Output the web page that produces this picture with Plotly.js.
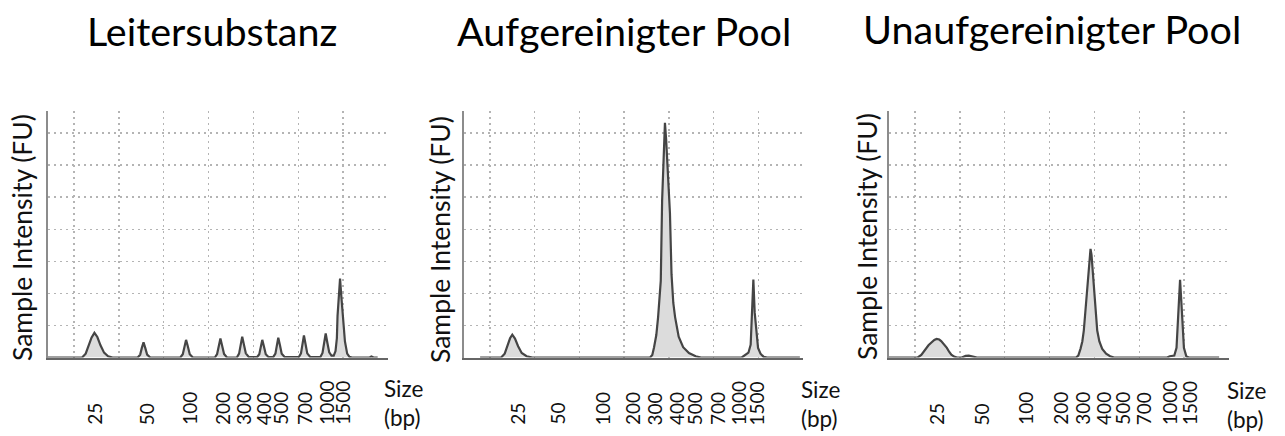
<!DOCTYPE html>
<html><head><meta charset="utf-8">
<script src="https://cdn.plot.ly/plotly-3.0.1.min.js"></script>
<style>html,body{margin:0;padding:0;background:#fff}#chart{width:1285px;height:436px}</style>
</head><body><div id="chart"></div>
<script>
// Panel titles
const panelTitles = ['Leitersubstanz', 'Aufgereinigter Pool', 'Unaufgereinigter Pool'];
// Size-standard labels (bp)
const sizeLabels = ['25', '50', '100', '200', '300', '400', '500', '700', '1000', '1500'];
// Migration time (s) at which each size label sits, per panel
const ladderTickTime     = [44.4, 56.1, 65.7, 73.1, 77.8, 82.3, 86.0, 91.4, 96.1, 99.7];
const purifiedTickTime   = [46.0, 54.9, 65.2, 71.9, 76.9, 81.7, 85.8, 90.9, 95.5, 99.6];
const unpurifiedTickTime = [44.7, 54.8, 64.6, 72.4, 77.3, 82.0, 86.2, 91.0, 96.6, 101.1];

// Electropherogram traces: migration time (s) and intensity (FU)
const ladderTime = [34.2, 41.8, 42.6, 43.3, 43.9, 44.55, 45.2, 45.9, 46.7, 47.6, 48.6,
  54.2, 54.75, 55.12, 55.5, 55.88, 56.3, 57.0,
  63.7, 64.25, 64.6, 64.98, 65.37, 65.8, 66.5,
  71.4, 71.9, 72.26, 72.64, 73.02, 73.45, 74.1,
  76.3, 76.8, 77.13, 77.5, 77.87, 78.3, 79.0,
  80.8, 81.3, 81.62, 81.97, 82.33, 82.75, 83.4,
  84.4, 84.9, 85.2, 85.54, 85.9, 86.3, 87.0,
  90.1, 90.6, 90.92, 91.26, 91.6, 92.0, 92.7,
  94.9, 95.4, 95.75, 96.11, 96.48, 96.9, 97.4,
  97.9, 98.3, 98.6, 98.75, 99.0, 99.31, 99.6, 100.0, 100.4, 100.9, 101.4, 102.0,
  105.9, 106.3, 106.8, 107.7];
const ladderFU = [0, 0, 1.2, 3.6, 6.2, 7.7, 6.4, 3.8, 1.5, 0.4, 0,
  0, 0.9, 3.0, 4.7, 3.0, 0.9, 0,
  0, 1.0, 3.4, 5.5, 3.5, 1.0, 0,
  0, 1.1, 3.7, 5.9, 3.7, 1.1, 0,
  0, 1.2, 4.0, 6.5, 4.1, 1.3, 0.1,
  0.1, 1.0, 3.4, 5.5, 3.5, 1.0, 0.1,
  0.1, 1.2, 3.9, 6.2, 3.9, 1.2, 0.1,
  0.1, 1.3, 4.3, 6.9, 4.3, 1.3, 0.1,
  0.1, 1.4, 4.6, 7.5, 4.6, 1.6, 0.6,
  0.6, 2.0, 6.0, 13.0, 19.0, 24.6, 19.0, 13.0, 5.0, 1.2, 0.2, 0,
  0, 0.3, 0, 0];

const purifiedTime = [37.8, 42.5, 43.3, 43.9, 44.5, 45.0, 45.6, 46.3, 47.1, 48.2, 49.5,
  75.8, 76.3, 76.7, 77.2, 77.6, 78.2, 78.5, 78.85, 79.13, 79.4, 79.8, 80.25, 80.6, 81.0, 81.4, 82.2, 83.2, 84.5, 86.0, 87.2,
  96.3, 97.0, 97.8, 98.3, 98.55, 98.9, 99.2, 99.6, 99.95, 100.5, 101.2, 102.0,
  109.3];
const purifiedFU = [0, 0, 1.2, 3.5, 6.0, 7.1, 5.9, 3.5, 1.4, 0.4, 0,
  0, 0.8, 3.2, 7.0, 12.6, 24.0, 49.0, 66.0, 73.2, 68.0, 58.0, 45.0, 26.0, 17.0, 12.6, 6.5, 3.2, 1.4, 0.4, 0,
  0, 0.6, 1.5, 4.0, 11.5, 24.3, 14.0, 8.0, 3.0, 1.2, 0.2, 0,
  0];

const unpurifiedTime = [34.2, 40.6, 41.4, 42.25, 43.0, 43.6, 44.3, 44.82, 45.4, 45.83, 46.5, 47.1, 47.6, 48.1, 48.7, 49.4,
  50.4, 51.3, 52.0, 52.8, 53.8,
  75.9, 76.4, 76.89, 77.3, 77.63, 77.9, 78.17, 78.6, 78.9, 79.13, 79.35, 79.7, 80.09, 80.35, 80.62, 81.1, 81.74, 82.6, 83.5, 84.4,
  96.2, 96.8, 97.3, 97.8, 98.3, 98.55, 98.8, 99.09, 99.35, 99.65, 99.95, 100.5, 101.1,
  107.8];
const unpurifiedFU = [0, 0, 0.8, 2.5, 3.8, 4.6, 5.5, 5.8, 5.6, 5.1, 4.0, 3.0, 1.8, 0.9, 0.3, 0,
  0, 0.5, 0.6, 0.4, 0,
  0, 0.6, 2.7, 5.0, 8.4, 13.0, 18.8, 27.0, 31.5, 33.9, 32.0, 26.0, 18.8, 13.0, 8.4, 5.0, 2.7, 1.2, 0.4, 0,
  0, 0.4, 0.6, 0.6, 3.0, 10.0, 18.0, 24.2, 18.0, 10.0, 3.0, 0.3, 0,
  0];

const W = 1285, H = 436;
const FONT = 'Lato, "Open Sans", sans-serif';
const xDomains = [[48 / W, 388 / W], [464 / W, 803 / W], [889 / W, 1229 / W]];
const yDomain = [1 - 357.5 / H, 1 - 110.7 / H];
const tickTimes = [ladderTickTime, purifiedTickTime, unpurifiedTickTime];
const series = [[ladderTime, ladderFU], [purifiedTime, purifiedFU], [unpurifiedTime, unpurifiedFU]];
const titleX = [211.7, 624, 1051.7];
const titleY = [31, 31, 28];
const yTitleX = [21.5, 440, 866.5];
const yTitleY = [237.5, 240, 236.5];
const sizeX = [383, 800, 1226];
const sizeY = [403, 404, 405];

const data = [];
const layout = {
  width: W, height: H,
  margin: {l: 0, r: 0, t: 0, b: 0},
  paper_bgcolor: '#fff', plot_bgcolor: '#fff',
  showlegend: false,
  font: {family: FONT, color: '#111'},
  annotations: []
};

for (let i = 0; i < 3; i++) {
  const sfx = i === 0 ? '' : String(i + 1);
  data.push({
    type: 'scatter', mode: 'lines',
    x: series[i][0], y: series[i][1],
    xaxis: 'x' + sfx, yaxis: 'y' + sfx,
    line: {color: '#454545', width: 2.2},
    fill: 'tozeroy', fillcolor: '#dcdcdc',
    hoverinfo: 'skip'
  });
  layout['xaxis' + sfx] = {
    domain: xDomains[i], anchor: 'y' + sfx,
    range: [34.2, 110], tick0: 40, dtick: 10,
    showgrid: true, gridcolor: '#b4b4b4', griddash: '2px,4px', gridwidth: 1.5,
    zeroline: false, showline: true, linecolor: '#666', linewidth: 2,
    ticks: '', showticklabels: false, fixedrange: true
  };
  layout['yaxis' + sfx] = {
    domain: yDomain, anchor: 'x' + sfx,
    range: [0, 77], tick0: 0, dtick: 10,
    showgrid: true, gridcolor: '#b4b4b4', griddash: '2px,4px', gridwidth: 1.5,
    zeroline: false, showline: true, linecolor: '#8c8c8c', linewidth: 2,
    ticks: '', showticklabels: false, fixedrange: true
  };
  layout.annotations.push({
    text: panelTitles[i], xref: 'paper', yref: 'paper',
    x: titleX[i] / W, y: 1 - titleY[i] / H, xanchor: 'center', yanchor: 'middle',
    showarrow: false, font: {family: FONT, size: 39.5, color: '#000'}
  });
  layout.annotations.push({
    text: 'Sample Intensity (FU)', xref: 'paper', yref: 'paper',
    x: yTitleX[i] / W, y: 1 - yTitleY[i] / H, xanchor: 'center', yanchor: 'middle',
    textangle: -90, showarrow: false, font: {family: FONT, size: 26.5, color: '#111'}
  });
  layout.annotations.push({
    text: 'Size<br>(bp)', xref: 'paper', yref: 'paper', align: 'left',
    x: sizeX[i] / W, y: 1 - sizeY[i] / H, xanchor: 'left', yanchor: 'middle',
    showarrow: false, borderpad: 0, font: {family: FONT, size: 22.5, color: '#111'}
  });
  for (let k = 0; k < sizeLabels.length; k++) {
    layout.annotations.push({
      text: sizeLabels[k], xref: 'x' + sfx, yref: 'paper',
      x: tickTimes[i][k], y: 1 - 426 / H, xanchor: 'center', yanchor: 'bottom',
      textangle: -90, showarrow: false, borderpad: 0,
      font: {family: FONT, size: 19, color: '#111'}
    });
  }
}

Plotly.newPlot('chart', data, layout, {staticPlot: true, displayModeBar: false});
</script></body></html>
